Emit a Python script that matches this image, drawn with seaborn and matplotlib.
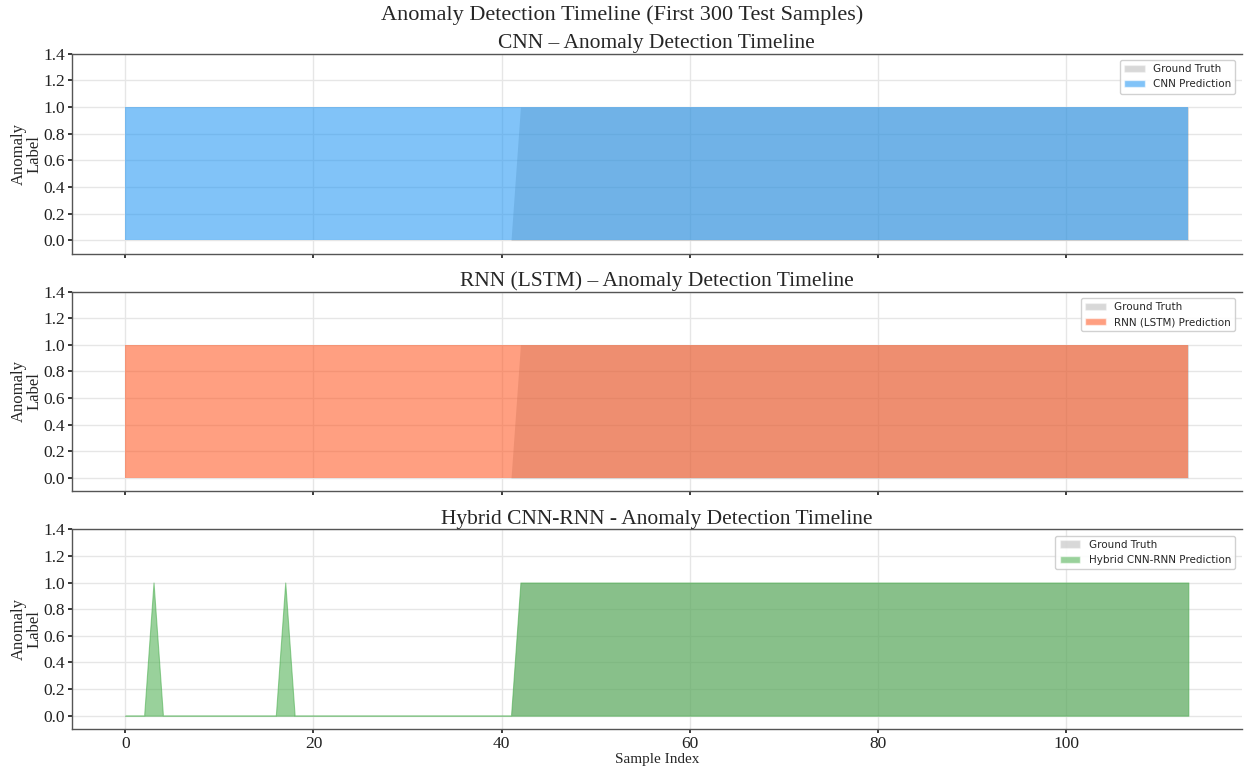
import numpy as np
import matplotlib.pyplot as plt
import seaborn as sns
from matplotlib.patches import Patch

# labels for the first 114 test samples (index 0..113)
ground_truth = [
    0, 0, 0, 0, 0, 0, 0, 0, 0, 0, 0, 0, 0, 0, 0, 0, 0, 0, 0, 0,
    0, 0, 0, 0, 0, 0, 0, 0, 0, 0, 0, 0, 0, 0, 0, 0, 0, 0, 0, 0,
    0, 0, 1, 1, 1, 1, 1, 1, 1, 1, 1, 1, 1, 1, 1, 1, 1, 1, 1, 1,
    1, 1, 1, 1, 1, 1, 1, 1, 1, 1, 1, 1, 1, 1, 1, 1, 1, 1, 1, 1,
    1, 1, 1, 1, 1, 1, 1, 1, 1, 1, 1, 1, 1, 1, 1, 1, 1, 1, 1, 1,
    1, 1, 1, 1, 1, 1, 1, 1, 1, 1, 1, 1, 1, 1,
]
cnn_pred = [
    1, 1, 1, 1, 1, 1, 1, 1, 1, 1, 1, 1, 1, 1, 1, 1, 1, 1, 1, 1,
    1, 1, 1, 1, 1, 1, 1, 1, 1, 1, 1, 1, 1, 1, 1, 1, 1, 1, 1, 1,
    1, 1, 1, 1, 1, 1, 1, 1, 1, 1, 1, 1, 1, 1, 1, 1, 1, 1, 1, 1,
    1, 1, 1, 1, 1, 1, 1, 1, 1, 1, 1, 1, 1, 1, 1, 1, 1, 1, 1, 1,
    1, 1, 1, 1, 1, 1, 1, 1, 1, 1, 1, 1, 1, 1, 1, 1, 1, 1, 1, 1,
    1, 1, 1, 1, 1, 1, 1, 1, 1, 1, 1, 1, 1, 1,
]
rnn_pred = [
    1, 1, 1, 1, 1, 1, 1, 1, 1, 1, 1, 1, 1, 1, 1, 1, 1, 1, 1, 1,
    1, 1, 1, 1, 1, 1, 1, 1, 1, 1, 1, 1, 1, 1, 1, 1, 1, 1, 1, 1,
    1, 1, 1, 1, 1, 1, 1, 1, 1, 1, 1, 1, 1, 1, 1, 1, 1, 1, 1, 1,
    1, 1, 1, 1, 1, 1, 1, 1, 1, 1, 1, 1, 1, 1, 1, 1, 1, 1, 1, 1,
    1, 1, 1, 1, 1, 1, 1, 1, 1, 1, 1, 1, 1, 1, 1, 1, 1, 1, 1, 1,
    1, 1, 1, 1, 1, 1, 1, 1, 1, 1, 1, 1, 1, 1,
]
hybrid_pred = [
    0, 0, 0, 1, 0, 0, 0, 0, 0, 0, 0, 0, 0, 0, 0, 0, 0, 1, 0, 0,
    0, 0, 0, 0, 0, 0, 0, 0, 0, 0, 0, 0, 0, 0, 0, 0, 0, 0, 0, 0,
    0, 0, 1, 1, 1, 1, 1, 1, 1, 1, 1, 1, 1, 1, 1, 1, 1, 1, 1, 1,
    1, 1, 1, 1, 1, 1, 1, 1, 1, 1, 1, 1, 1, 1, 1, 1, 1, 1, 1, 1,
    1, 1, 1, 1, 1, 1, 1, 1, 1, 1, 1, 1, 1, 1, 1, 1, 1, 1, 1, 1,
    1, 1, 1, 1, 1, 1, 1, 1, 1, 1, 1, 1, 1, 1,
]

models = ['CNN', 'RNN (LSTM)', 'Hybrid CNN-RNN']
titles = ['CNN \u2013 Anomaly Detection Timeline',
          'RNN (LSTM) \u2013 Anomaly Detection Timeline',
          'Hybrid CNN-RNN - Anomaly Detection Timeline']
predictions = [cnn_pred, rnn_pred, hybrid_pred]
colors = ['#2196F3', '#FF5722', '#4CAF50']
edge_widths = [0, 0, 0.8]

sns.set_theme(style='whitegrid')
plt.rcParams['font.family'] = ['Liberation Serif', 'DejaVu Serif']
plt.rcParams.update({
    'axes.edgecolor': '#555555',
    'axes.linewidth': 1.0,
    'grid.color': '#e6e6e6',
    'xtick.bottom': True,
    'ytick.left': True,
    'xtick.major.size': 3,
    'ytick.major.size': 3,
    'xtick.color': '#222222',
    'ytick.color': '#222222',
})

x = np.arange(len(ground_truth))
fig, axes = plt.subplots(3, 1, figsize=(12.44, 7.69), dpi=100, sharex=True)
fig.subplots_adjust(left=0.058, right=0.998, top=0.930, bottom=0.052, hspace=0.19)

for ax, name, title, pred, color, lw in zip(axes, models, titles, predictions,
                                            colors, edge_widths):
    ax.fill_between(x, 0, ground_truth, color='gray', alpha=0.3, linewidth=0)
    ax.fill_between(x, 0, pred, color=color, alpha=0.57, linewidth=lw)
    ax.set_ylim(-0.1, 1.4)
    ax.set_yticks(np.arange(0, 1.41, 0.2))
    ax.tick_params(axis='both', labelsize=12.5, pad=2)
    ax.set_ylabel('Anomaly\nLabel', fontsize=12, linespacing=0.9, labelpad=1)
    ax.set_title(title, fontsize=15.5, pad=4)
    sns.despine(ax=ax, top=False, right=True)
    handles = [Patch(facecolor='gray', alpha=0.3, label='Ground Truth'),
               Patch(facecolor=color, alpha=0.57, label=f'{name} Prediction')]
    ax.legend(handles=handles, loc='upper right',
              prop={'family': 'DejaVu Sans', 'size': 7.5},
              frameon=True, framealpha=0.9, borderaxespad=0.6)

axes[-1].set_xlabel('Sample Index', fontsize=11, labelpad=1)
fig.suptitle('Anomaly Detection Timeline (First 300 Test Samples)', fontsize=16, y=0.993)

fig.savefig('out.png', dpi=100)
